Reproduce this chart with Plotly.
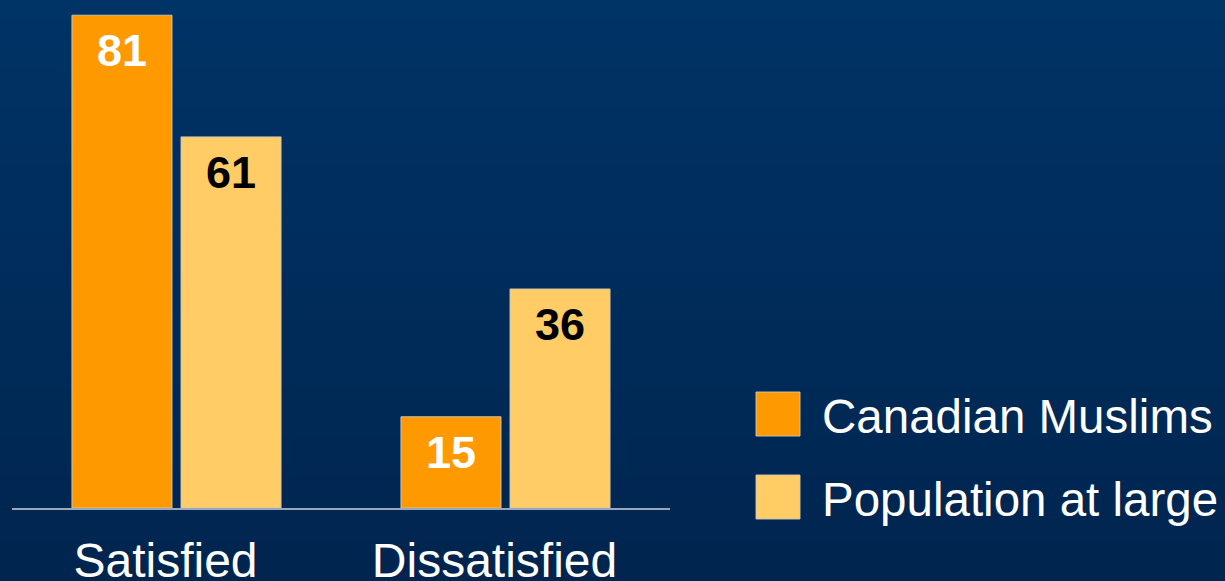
import plotly.graph_objects as go

# ---- data ----
categories = ["Satisfied", "Dissatisfied"]
series_names = ["Canadian Muslims", "Population at large"]
muslims = [81, 15]
population = [61, 36]

# ---- styles ----
W, H = 1225, 581
colors = ["#FF9900", "#FFCC66"]
text_colors = ["white", "black"]
FONT = "Arial, 'Liberation Sans', sans-serif"
BARGAP = 0.337
BARGROUPGAP = 0.0826

def px_x(x):
    return x / W

def px_y(y):
    return 1 - y / H

fig = go.Figure()
annotations = []
series_vals = [muslims, population]
nser = len(series_vals)
slot = (1 - BARGAP) / nser
for j, (name, vals, c, tc) in enumerate(zip(series_names, series_vals, colors, text_colors)):
    fig.add_trace(go.Bar(
        x=categories, y=vals, name=name,
        marker=dict(color=c, line=dict(color="rgba(205,200,190,0.9)", width=1)),
        showlegend=False,
        hoverinfo="x+y+name",
    ))
    off = -(1 - BARGAP) / 2 + slot * (j + 0.5)
    for i, v in enumerate(vals):
        annotations.append(dict(xref="x", yref="y", x=i + off, y=v, text=str(v),
                                showarrow=False, yanchor="top", yshift=-8,
                                font=dict(family=FONT, size=45, color=tc, weight="bold")))

# gradient background
shapes = []
top = (0, 51, 102)
bot = (0, 37, 79)
n = 60
for i in range(n):
    t = i / (n - 1)
    col = tuple(round(top[k] + (bot[k] - top[k]) * t) for k in range(3))
    shapes.append(dict(type="rect", xref="paper", yref="paper",
                       x0=0, x1=1, y0=1 - (i + 1) / n - 0.001, y1=1 - i / n,
                       fillcolor="rgb(%d,%d,%d)" % col, line=dict(width=0), layer="below"))

# custom legend
legend_rows = [414, 497]
for name, c, yc in zip(series_names, colors, legend_rows):
    shapes.append(dict(type="rect", xref="paper", yref="paper",
                       x0=px_x(756), x1=px_x(800), y0=px_y(yc + 22), y1=px_y(yc - 22),
                       fillcolor=c, line=dict(color="rgba(205,200,190,0.9)", width=1)))
    annotations.append(dict(xref="paper", yref="paper", x=px_x(820), y=px_y(yc + 2),
                            text=name, showarrow=False, xanchor="left", yanchor="middle",
                            font=dict(family=FONT, size=47.5, color="white")))

fig.update_layout(
    width=W, height=H,
    margin=dict(l=0, r=0, t=0, b=0),
    paper_bgcolor="#002a5a",
    plot_bgcolor="rgba(0,0,0,0)",
    barmode="group", bargap=BARGAP, bargroupgap=BARGROUPGAP,
    shapes=shapes, annotations=annotations,
    xaxis=dict(domain=[px_x(12), px_x(670)], showline=True, linecolor="#9aa6ba", linewidth=2,
               showgrid=False, zeroline=False, ticks="",
               tickfont=dict(family=FONT, size=48, color="white"),
               automargin=False, ticklabelstandoff=9, ticklabelshift=-11),
    yaxis=dict(domain=[1 - 508 / H, 1], range=[0, 83.5], visible=False,
               showgrid=False, zeroline=False, automargin=False),
)

fig.write_html("out.html", config={"displayModeBar": False},
               post_script="document.body.style.margin='0';document.body.style.overflow='hidden';")
